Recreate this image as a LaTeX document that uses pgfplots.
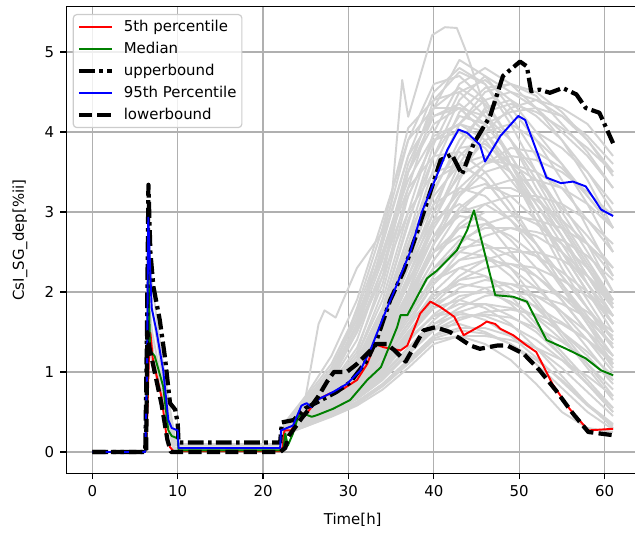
\documentclass[border=0pt]{standalone}
\usepackage{pgfplots}
\pgfplotsset{compat=1.18}
\usepackage{fontspec}
\setmainfont{DejaVu Sans}
\definecolor{gridgray}{HTML}{B0B0B0}
\definecolor{lgray}{HTML}{D3D3D3}
\definecolor{mplgreen}{HTML}{008000}
\definecolor{legedge}{HTML}{CCCCCC}
\pgfplotsset{gr/.style={color=lgray, line width=1.1pt, line join=round, forget plot}}

\begin{document}
\begin{tikzpicture}
\begin{axis}[
  at={(0,0)}, anchor=south west,
  scale only axis,
  width=11.456cm, height=9.328cm,
  xmin=-3.05, xmax=64.05, ymin=-0.265, ymax=5.565,
  xtick={0,10,20,30,40,50,60}, ytick={0,1,2,3,4,5},
  tick pos=left,
  grid=major,
  grid style={gridgray, line width=0.68pt},
  axis line style={line width=0.68pt},
  tick align=outside, major tick length=0.12cm,
  tick style={black, line width=0.68pt},
  every tick label/.append style={font=\fontsize{8.5}{10}\selectfont},
  /pgf/number format/assume math mode=true,
  label style={font=\fontsize{8.5}{10}\selectfont},
  xlabel={Time[h]}, ylabel={CsI\_SG\_dep[\%ii]},
  xlabel style={at={(axis description cs:0.5,-0.1003)}, anchor=center},
  ylabel style={at={(axis description cs:-0.0808,0.5)}, anchor=center},
  legend cell align=left,
  legend image code/.code={\draw[#1] (0cm,0cm) -- (0.66cm,0cm);},
  legend style={
    at={(0.0112,0.9846)}, anchor=north west,
    draw=legedge, line width=0.68pt, rounded corners=2pt,
    fill=white, fill opacity=0.8, text opacity=1,
    font=\fontsize{8.5}{10}\selectfont,
    inner xsep=2pt, inner ysep=2pt, row sep=2.2pt,
    nodes={inner sep=1pt, text height=6.5pt, text depth=1.8pt},
    /tikz/every odd column/.append style={column sep=0.16cm},
  },
]
% ensemble runs, early spike part
\addplot[gr] coordinates {(0,0)(6.2,0)(6.5,2.5)(7,1.8)(8,1.1)(9,0.45)(9.7,0.08)(22,0.08)};
\addplot[gr] coordinates {(0,0)(6.2,0)(6.5,2.0)(7,1.5)(8,0.95)(9,0.35)(9.6,0.05)(22,0.05)};
\addplot[gr] coordinates {(0,0)(6.3,0)(6.6,1.7)(7.2,1.2)(8,0.8)(9,0.3)(9.5,0.02)(22,0.02)};
\addplot[gr] coordinates {(0,0)(6.3,0)(6.6,1.3)(7.3,1.0)(8.2,0.7)(9.2,0.2)(9.6,0.03)(22,0.03)};
\addplot[gr] coordinates {(0,0)(6.2,0)(6.5,2.8)(7,2.1)(8,1.3)(9,0.6)(9.8,0.1)(22,0.1)};
% ensemble runs, second release
\addplot[gr] coordinates {(22,0.05)(22.5,0.3)(25,0.7)(26.5,1.6)(27.2,1.77)(28.5,1.68)(31,2.3)(34,2.75)(35,3.1)(36.3,4.65)(37,4.19)(39.8,5.21)(41.3,5.31)(42.7,5.3)(43.7,5.03)(46,4.3)(49,3.6)(52,3.0)(55,2.5)(58,2.0)(61,1.6)};
\addplot[gr] coordinates {(22,0.05)(22.5,0.35)(25,0.6)(28,0.95)(31,1.8)(34,2.8)(37,4.05)(40,4.4)(43,4.5)(46,4.2)(49,3.7)(52,3.2)(55,2.7)(58,2.2)(61,1.8)};
\addplot[gr] coordinates {(22,0.05)(22.5,0.33)(25,0.55)(28,0.9)(31,1.5)(34,2.6)(37,3.7)(40,4.5)(43,4.8)(46,4.6)(49,4.1)(52,3.5)(55,2.9)(58,2.4)(61,1.9)};
\addplot[gr] coordinates {(22,0.04)(22.5,0.3)(25,0.5)(28,0.85)(31,1.3)(34,2.1)(37,3.3)(40,4.3)(43,4.9)(46,4.7)(49,4.3)(52,3.9)(55,3.4)(58,2.8)(61,2.2)};
\addplot[gr] coordinates {(22,0.04)(22.5,0.3)(25,0.5)(28,0.8)(31,1.2)(34,1.9)(37,3.0)(40,4.0)(43,4.6)(46,4.8)(49,4.6)(52,4.3)(55,3.9)(58,3.4)(61,2.8)};
\addplot[gr] coordinates {(22,0.03)(22.5,0.28)(25,0.45)(28,0.75)(31,1.1)(34,1.7)(37,2.7)(40,3.7)(43,4.4)(46,4.7)(49,4.5)(52,4.4)(55,4.2)(58,3.9)(61,3.5)};
\addplot[gr] coordinates {(22,0.03)(22.5,0.28)(25,0.45)(28,0.7)(31,1.05)(34,1.6)(37,2.5)(40,3.4)(43,4.1)(46,4.4)(49,4.5)(52,4.3)(55,4.0)(58,3.7)(61,3.3)};
\addplot[gr] coordinates {(22,0.03)(22.5,0.3)(25,0.5)(28,0.8)(31,1.2)(34,2.0)(37,3.2)(40,3.9)(43,4.0)(46,3.8)(49,3.4)(52,3.0)(55,2.5)(58,2.0)(61,1.5)};
\addplot[gr] coordinates {(22,0.03)(22.5,0.3)(25,0.48)(28,0.78)(31,1.15)(34,1.8)(37,2.9)(40,3.7)(43,4.2)(46,4.1)(49,3.7)(52,3.2)(55,2.7)(58,2.1)(61,1.6)};
\addplot[gr] coordinates {(22,0.03)(22.5,0.28)(25,0.45)(28,0.7)(31,1.0)(34,1.5)(37,2.3)(40,3.1)(43,3.7)(46,4.0)(49,4.1)(52,3.9)(55,3.6)(58,3.2)(61,2.8)};
\addplot[gr] coordinates {(22,0.02)(22.5,0.27)(25,0.42)(28,0.65)(31,0.95)(34,1.4)(37,2.1)(40,2.9)(43,3.5)(46,3.9)(49,4.0)(52,4.0)(55,3.8)(58,3.5)(61,3.1)};
\addplot[gr] coordinates {(22,0.03)(22.5,0.3)(25,0.48)(28,0.75)(31,1.1)(34,1.75)(37,2.7)(40,3.4)(43,3.6)(46,3.4)(49,3.0)(52,2.6)(55,2.1)(58,1.6)(61,1.1)};
\addplot[gr] coordinates {(22,0.03)(22.5,0.29)(25,0.45)(28,0.72)(31,1.05)(34,1.6)(37,2.4)(40,3.2)(43,3.6)(46,3.7)(49,3.5)(52,3.1)(55,2.7)(58,2.2)(61,1.7)};
\addplot[gr] coordinates {(22,0.02)(22.5,0.27)(25,0.42)(28,0.66)(31,0.95)(34,1.4)(37,2.0)(40,2.7)(43,3.2)(46,3.5)(49,3.6)(52,3.5)(55,3.3)(58,2.9)(61,2.5)};
\addplot[gr] coordinates {(22,0.02)(22.5,0.26)(25,0.4)(28,0.62)(31,0.9)(34,1.3)(37,1.9)(40,2.5)(43,3.0)(46,3.3)(49,3.4)(52,3.4)(55,3.3)(58,3.1)(61,2.8)};
\addplot[gr] coordinates {(22,0.03)(22.5,0.3)(25,0.47)(28,0.72)(31,1.05)(34,1.55)(37,2.3)(40,2.9)(43,3.1)(46,2.9)(49,2.5)(52,2.1)(55,1.7)(58,1.3)(61,0.9)};
\addplot[gr] coordinates {(22,0.03)(22.5,0.28)(25,0.44)(28,0.68)(31,0.98)(34,1.45)(37,2.1)(40,2.7)(43,3.0)(46,3.1)(49,2.9)(52,2.6)(55,2.2)(58,1.8)(61,1.4)};
\addplot[gr] coordinates {(22,0.02)(22.5,0.27)(25,0.41)(28,0.63)(31,0.9)(34,1.3)(37,1.85)(40,2.4)(43,2.8)(46,3.0)(49,3.0)(52,2.85)(55,2.6)(58,2.3)(61,1.9)};
\addplot[gr] coordinates {(22,0.02)(22.5,0.26)(25,0.39)(28,0.6)(31,0.85)(34,1.2)(37,1.7)(40,2.2)(43,2.6)(46,2.85)(49,2.95)(52,2.9)(55,2.8)(58,2.6)(61,2.3)};
\addplot[gr] coordinates {(22,0.03)(22.5,0.29)(25,0.45)(28,0.68)(31,0.98)(34,1.4)(37,2.0)(40,2.5)(43,2.7)(46,2.6)(49,2.3)(52,1.9)(55,1.5)(58,1.1)(61,0.7)};
\addplot[gr] coordinates {(22,0.02)(22.5,0.27)(25,0.42)(28,0.64)(31,0.9)(34,1.3)(37,1.8)(40,2.3)(43,2.55)(46,2.6)(49,2.45)(52,2.2)(55,1.9)(58,1.5)(61,1.1)};
\addplot[gr] coordinates {(22,0.02)(22.5,0.26)(25,0.4)(28,0.6)(31,0.85)(34,1.2)(37,1.65)(40,2.1)(43,2.4)(46,2.55)(49,2.55)(52,2.45)(55,2.25)(58,2.0)(61,1.7)};
\addplot[gr] coordinates {(22,0.02)(22.5,0.25)(25,0.38)(28,0.57)(31,0.8)(34,1.1)(37,1.5)(40,1.9)(43,2.2)(46,2.4)(49,2.5)(52,2.5)(55,2.4)(58,2.2)(61,1.9)};
\addplot[gr] coordinates {(22,0.02)(22.5,0.27)(25,0.42)(28,0.63)(31,0.88)(34,1.25)(37,1.75)(40,2.15)(43,2.3)(46,2.2)(49,1.95)(52,1.6)(55,1.25)(58,0.9)(61,0.55)};
\addplot[gr] coordinates {(22,0.02)(22.5,0.26)(25,0.4)(28,0.6)(31,0.83)(34,1.15)(37,1.6)(40,1.95)(43,2.15)(46,2.2)(49,2.05)(52,1.8)(55,1.5)(58,1.2)(61,0.85)};
\addplot[gr] coordinates {(22,0.02)(22.5,0.25)(25,0.38)(28,0.56)(31,0.78)(34,1.05)(37,1.45)(40,1.8)(43,2.05)(46,2.15)(49,2.1)(52,1.95)(55,1.75)(58,1.5)(61,1.2)};
\addplot[gr] coordinates {(22,0.01)(22.5,0.24)(25,0.36)(28,0.53)(31,0.73)(34,0.98)(37,1.3)(40,1.65)(43,1.9)(46,2.05)(49,2.1)(52,2.05)(55,1.95)(58,1.75)(61,1.5)};
\addplot[gr] coordinates {(22,0.02)(22.5,0.26)(25,0.4)(28,0.58)(31,0.8)(34,1.1)(37,1.5)(40,1.8)(43,1.9)(46,1.8)(49,1.6)(52,1.3)(55,0.95)(58,0.6)(61,0.3)};
\addplot[gr] coordinates {(22,0.02)(22.5,0.25)(25,0.38)(28,0.55)(31,0.75)(34,1.02)(37,1.4)(40,1.7)(43,1.85)(46,1.85)(49,1.7)(52,1.5)(55,1.2)(58,0.85)(61,0.5)};
\addplot[gr] coordinates {(22,0.01)(22.5,0.24)(25,0.35)(28,0.5)(31,0.68)(34,0.92)(37,1.25)(40,1.55)(43,1.75)(46,1.85)(49,1.8)(52,1.7)(55,1.5)(58,1.25)(61,0.95)};
\addplot[gr] coordinates {(22,0.01)(22.5,0.23)(25,0.33)(28,0.47)(31,0.62)(34,0.85)(37,1.15)(40,1.45)(43,1.65)(46,1.75)(49,1.78)(52,1.72)(55,1.6)(58,1.4)(61,1.15)};
\addplot[gr] coordinates {(22,0.02)(22.5,0.25)(25,0.37)(28,0.52)(31,0.7)(34,0.95)(37,1.3)(40,1.55)(43,1.6)(46,1.5)(49,1.35)(52,1.1)(55,0.8)(58,0.5)(61,0.28)};
\addplot[gr] coordinates {(22,0.01)(22.5,0.23)(25,0.34)(28,0.48)(31,0.63)(34,0.85)(37,1.15)(40,1.45)(43,1.55)(46,1.55)(49,1.45)(52,1.3)(55,1.05)(58,0.75)(61,0.45)};
\addplot[gr] coordinates {(22,0.01)(22.5,0.22)(25,0.32)(28,0.44)(31,0.58)(34,0.78)(37,1.05)(40,1.35)(43,1.45)(46,1.45)(49,1.4)(52,1.3)(55,1.15)(58,0.95)(61,0.7)};
\addplot[gr] coordinates {(22,0.02)(22.5,0.26)(25,0.4)(28,0.6)(31,0.85)(34,1.2)(37,1.8)(40,2.6)(43,3.4)(46,4.0)(49,4.3)(52,4.4)(55,4.3)(58,4.1)(61,3.7)};
\addplot[gr] coordinates {(22,0.02)(22.5,0.27)(25,0.42)(28,0.65)(31,0.95)(34,1.45)(37,2.2)(40,3.0)(43,3.8)(46,4.3)(49,4.4)(52,4.2)(55,3.9)(58,3.5)(61,3.0)};
\addplot[gr] coordinates {(22,0.03)(22.5,0.3)(25,0.5)(28,0.82)(31,1.25)(34,2.2)(37,3.5)(40,4.2)(43,4.3)(46,4.0)(49,3.5)(52,2.9)(55,2.3)(58,1.8)(61,1.3)};
\addplot[gr] coordinates {(22,0.02)(22.5,0.28)(25,0.44)(28,0.66)(31,0.92)(34,1.3)(37,1.9)(40,2.6)(43,3.2)(46,3.6)(49,3.8)(52,3.75)(55,3.55)(58,3.2)(61,2.8)};
\addplot[gr] coordinates {(22,0.01)(22.5,0.22)(25,0.32)(28,0.45)(31,0.6)(34,0.82)(37,1.1)(40,1.4)(43,1.45)(46,1.35)(49,1.15)(52,0.85)(55,0.5)(58,0.3)(61,0.25)};
\addplot[gr] coordinates {(22,0.04)(22.5,0.32)(25,0.58)(28,0.95)(31,1.6)(34,2.7)(37,3.9)(40,4.6)(43,4.7)(46,4.4)(49,3.9)(52,3.3)(55,2.8)(58,2.3)(61,1.85)};
\addplot[gr] coordinates {(22,0.04)(22.5,0.31)(25,0.52)(28,0.88)(31,1.4)(34,2.3)(37,3.5)(40,4.4)(43,4.75)(46,4.6)(49,4.2)(52,3.7)(55,3.1)(58,2.6)(61,2.0)};
\addplot[gr] coordinates {(22,0.03)(22.5,0.29)(25,0.47)(28,0.78)(31,1.15)(34,1.8)(37,2.85)(40,3.85)(43,4.5)(46,4.65)(49,4.4)(52,4.0)(55,3.6)(58,3.1)(61,2.5)};
\addplot[gr] coordinates {(22,0.03)(22.5,0.28)(25,0.44)(28,0.72)(31,1.08)(34,1.65)(37,2.6)(40,3.55)(43,4.25)(46,4.55)(49,4.6)(52,4.45)(55,4.1)(58,3.75)(61,3.3)};
\addplot[gr] coordinates {(22,0.03)(22.5,0.27)(25,0.43)(28,0.68)(31,1.0)(34,1.5)(37,2.35)(40,3.25)(43,3.9)(46,4.25)(49,4.35)(52,4.25)(55,4.05)(58,3.8)(61,3.5)};
\addplot[gr] coordinates {(22,0.03)(22.5,0.29)(25,0.46)(28,0.74)(31,1.1)(34,1.7)(37,2.6)(40,3.3)(43,3.8)(46,3.85)(49,3.6)(52,3.2)(55,2.8)(58,2.3)(61,1.8)};
\addplot[gr] coordinates {(22,0.03)(22.5,0.28)(25,0.44)(28,0.7)(31,1.02)(34,1.55)(37,2.35)(40,3.0)(43,3.45)(46,3.65)(49,3.6)(52,3.4)(55,3.05)(58,2.7)(61,2.3)};
\addplot[gr] coordinates {(22,0.02)(22.5,0.27)(25,0.42)(28,0.65)(31,0.95)(34,1.4)(37,2.1)(40,2.8)(43,3.3)(46,3.6)(49,3.7)(52,3.65)(55,3.5)(58,3.25)(61,2.95)};
\addplot[gr] coordinates {(22,0.03)(22.5,0.3)(25,0.48)(28,0.76)(31,1.12)(34,1.7)(37,2.55)(40,3.1)(43,3.3)(46,3.2)(49,2.9)(52,2.5)(55,2.05)(58,1.6)(61,1.2)};
\addplot[gr] coordinates {(22,0.03)(22.5,0.28)(25,0.45)(28,0.7)(31,1.0)(34,1.5)(37,2.2)(40,2.85)(43,3.25)(46,3.35)(49,3.2)(52,2.9)(55,2.5)(58,2.1)(61,1.7)};
\addplot[gr] coordinates {(22,0.02)(22.5,0.27)(25,0.41)(28,0.63)(31,0.92)(34,1.35)(37,1.95)(40,2.6)(43,3.05)(46,3.3)(49,3.3)(52,3.15)(55,2.9)(58,2.6)(61,2.2)};
\addplot[gr] coordinates {(22,0.02)(22.5,0.26)(25,0.4)(28,0.61)(31,0.88)(34,1.28)(37,1.85)(40,2.4)(43,2.85)(46,3.1)(49,3.2)(52,3.2)(55,3.1)(58,2.9)(61,2.6)};
\addplot[gr] coordinates {(22,0.03)(22.5,0.29)(25,0.45)(28,0.7)(31,1.0)(34,1.5)(37,2.15)(40,2.7)(43,2.95)(46,2.9)(49,2.65)(52,2.3)(55,1.9)(58,1.5)(61,1.05)};
\addplot[gr] coordinates {(22,0.02)(22.5,0.27)(25,0.42)(28,0.65)(31,0.93)(34,1.35)(37,1.95)(40,2.5)(43,2.8)(46,2.85)(49,2.7)(52,2.45)(55,2.1)(58,1.7)(61,1.3)};
\addplot[gr] coordinates {(22,0.02)(22.5,0.26)(25,0.4)(28,0.61)(31,0.87)(34,1.25)(37,1.75)(40,2.3)(43,2.65)(46,2.8)(49,2.8)(52,2.7)(55,2.5)(58,2.2)(61,1.85)};
\addplot[gr] coordinates {(22,0.02)(22.5,0.25)(25,0.38)(28,0.58)(31,0.82)(34,1.15)(37,1.6)(40,2.1)(43,2.5)(46,2.7)(49,2.8)(52,2.75)(55,2.65)(58,2.45)(61,2.15)};
\addplot[gr] coordinates {(22,0.02)(22.5,0.28)(25,0.43)(28,0.65)(31,0.92)(34,1.3)(37,1.85)(40,2.3)(43,2.5)(46,2.45)(49,2.2)(52,1.85)(55,1.45)(58,1.05)(61,0.65)};
\addplot[gr] coordinates {(22,0.02)(22.5,0.27)(25,0.41)(28,0.62)(31,0.87)(34,1.22)(37,1.7)(40,2.15)(43,2.4)(46,2.45)(49,2.3)(52,2.05)(55,1.75)(58,1.4)(61,1.0)};
\addplot[gr] coordinates {(22,0.02)(22.5,0.26)(25,0.39)(28,0.58)(31,0.82)(34,1.13)(37,1.55)(40,2.0)(43,2.3)(46,2.4)(49,2.35)(52,2.2)(55,1.95)(58,1.65)(61,1.35)};
\addplot[gr] coordinates {(22,0.01)(22.5,0.24)(25,0.37)(28,0.55)(31,0.77)(34,1.05)(37,1.45)(40,1.85)(43,2.15)(46,2.3)(49,2.35)(52,2.3)(55,2.15)(58,1.95)(61,1.7)};
\addplot[gr] coordinates {(22,0.02)(22.5,0.26)(25,0.4)(28,0.59)(31,0.83)(34,1.15)(37,1.6)(40,1.95)(43,2.1)(46,2.05)(49,1.85)(52,1.55)(55,1.2)(58,0.85)(61,0.5)};
\addplot[gr] coordinates {(22,0.02)(22.5,0.25)(25,0.38)(28,0.56)(31,0.79)(34,1.08)(37,1.48)(40,1.85)(43,2.0)(46,2.0)(49,1.88)(52,1.68)(55,1.4)(58,1.1)(61,0.78)};
\addplot[gr] coordinates {(22,0.01)(22.5,0.24)(25,0.36)(28,0.53)(31,0.74)(34,1.0)(37,1.38)(40,1.72)(43,1.95)(46,2.0)(49,1.95)(52,1.82)(55,1.62)(58,1.4)(61,1.1)};
\addplot[gr] coordinates {(22,0.01)(22.5,0.23)(25,0.35)(28,0.5)(31,0.68)(34,0.92)(37,1.25)(40,1.6)(43,1.8)(46,1.95)(49,2.0)(52,1.95)(55,1.85)(58,1.68)(61,1.45)};
\addplot[gr] coordinates {(22,0.02)(22.5,0.25)(25,0.38)(28,0.55)(31,0.76)(34,1.04)(37,1.42)(40,1.7)(43,1.75)(46,1.65)(49,1.45)(52,1.18)(55,0.88)(58,0.58)(61,0.33)};
\addplot[gr] coordinates {(22,0.01)(22.5,0.24)(25,0.36)(28,0.52)(31,0.71)(34,0.96)(37,1.3)(40,1.6)(43,1.72)(46,1.7)(49,1.58)(52,1.4)(55,1.15)(58,0.85)(61,0.55)};
\addplot[gr] coordinates {(22,0.01)(22.5,0.23)(25,0.34)(28,0.49)(31,0.66)(34,0.9)(37,1.22)(40,1.52)(43,1.68)(46,1.72)(49,1.68)(52,1.55)(55,1.38)(58,1.15)(61,0.9)};
\addplot[gr] coordinates {(22,0.01)(22.5,0.23)(25,0.33)(28,0.47)(31,0.62)(34,0.84)(37,1.12)(40,1.42)(43,1.52)(46,1.48)(49,1.35)(52,1.15)(55,0.9)(58,0.6)(61,0.35)};
\addplot[gr] coordinates {(22,0.02)(22.5,0.27)(25,0.42)(28,0.65)(31,0.95)(34,1.5)(37,2.4)(40,3.4)(43,4.1)(46,4.5)(49,4.6)(52,4.5)(55,4.25)(58,3.9)(61,3.45)};
\addplot[gr] coordinates {(22,0.02)(22.5,0.26)(25,0.4)(28,0.62)(31,0.9)(34,1.35)(37,2.0)(40,2.9)(43,3.6)(46,4.1)(49,4.25)(52,4.3)(55,4.2)(58,3.95)(61,3.6)};
\addplot[gr] coordinates {(22,0.05)(22.5,0.35)(25,0.65)(28,1.05)(31,1.7)(34,2.5)(37,3.4)(40,3.95)(43,4.1)(46,3.9)(49,3.5)(52,3.0)(55,2.5)(58,2.0)(61,1.6)};
\addplot[gr] coordinates {(22,0.05)(22.5,0.34)(25,0.62)(28,1.0)(31,1.55)(34,2.4)(37,3.6)(40,4.3)(43,4.55)(46,4.35)(49,3.9)(52,3.4)(55,2.85)(58,2.35)(61,1.9)};
\addplot[gr] coordinates {(22,0.05)(22.5,0.36)(25,0.7)(28,1.2)(31,1.9)(34,2.9)(37,3.9)(40,4.3)(43,4.3)(46,4.0)(49,3.5)(52,3.0)(55,2.4)(58,1.9)(61,1.4)};
\addplot[gr] coordinates {(22,0.05)(22.5,0.35)(25,0.68)(28,1.1)(31,1.75)(34,2.65)(37,3.7)(40,4.2)(43,4.35)(46,4.1)(49,3.7)(52,3.2)(55,2.7)(58,2.2)(61,1.7)};
\addplot[gr] coordinates {(22,0.04)(22.5,0.33)(25,0.62)(28,1.0)(31,1.6)(34,2.5)(37,3.5)(40,4.1)(43,4.3)(46,4.2)(49,3.9)(52,3.5)(55,3.0)(58,2.5)(61,2.0)};
\addplot[gr] coordinates {(22,0.04)(22.5,0.32)(25,0.6)(28,0.98)(31,1.5)(34,2.3)(37,3.2)(40,3.9)(43,4.1)(46,4.0)(49,3.6)(52,3.1)(55,2.6)(58,2.1)(61,1.6)};
\addplot[gr] coordinates {(22,0.04)(22.5,0.33)(25,0.63)(28,1.05)(31,1.65)(34,2.45)(37,3.3)(40,3.7)(43,3.75)(46,3.5)(49,3.1)(52,2.6)(55,2.1)(58,1.65)(61,1.2)};
\addplot[gr] coordinates {(22,0.04)(22.5,0.3)(25,0.55)(28,0.95)(31,1.5)(34,2.2)(37,3.0)(40,3.5)(43,3.6)(46,3.4)(49,3.0)(52,2.6)(55,2.2)(58,1.8)(61,1.4)};

% statistics
\addplot[red, line width=1.1pt, line join=round] coordinates {(0,0)(6.2,0)(6.4,0.3)(6.6,1.1)(6.8,1.49)(7.1,1.15)(8.1,0.69)(8.7,0.19)(9.1,0.06)(9.5,0.01)(22,0.01)(22.3,0.06)(22.5,0.27)(23.3,0.27)(24.3,0.48)(25.1,0.48)(26.3,0.65)(27.8,0.73)(29.4,0.79)(31,0.9)(32.2,1.1)(33.1,1.35)(34.1,1.31)(35,1.29)(36.1,1.27)(36.9,1.33)(38.4,1.73)(39.6,1.88)(40.8,1.81)(42.4,1.69)(43.5,1.46)(45.5,1.58)(46.2,1.63)(47.2,1.6)(47.8,1.54)(49.3,1.46)(50.9,1.33)(52,1.25)(53.9,0.85)(55.9,0.54)(58.1,0.27)(61,0.29)};
\addlegendentry{5th percentile}
\addplot[mplgreen, line width=1.1pt, line join=round] coordinates {(0,0)(6.2,0)(6.4,0.5)(6.57,2.31)(6.76,1.27)(7.3,1.2)(8.3,0.82)(8.9,0.27)(9.3,0.2)(10,0.17)(10.1,0.02)(22,0.02)(22.4,0.04)(22.6,0.23)(22.9,0.08)(23.5,0.23)(24.1,0.44)(24.7,0.48)(25.7,0.44)(26.3,0.46)(28.2,0.54)(30.2,0.65)(32.2,0.9)(33.8,1.06)(35.7,1.56)(36.1,1.71)(36.9,1.71)(37.6,1.85)(39.2,2.17)(40.4,2.27)(42.7,2.52)(43.9,2.77)(44.7,3.02)(47.2,1.96)(49.3,1.94)(50.9,1.88)(53.2,1.4)(55.5,1.29)(57.8,1.17)(59.6,1.02)(61,0.96)};
\addlegendentry{Median}
\addplot[black, line width=2.4pt, line join=round, dash pattern=on 9pt off 2.5pt on 2pt off 2.5pt] coordinates {(0,0)(6.2,0)(6.4,1.5)(6.57,3.34)(6.8,2.5)(7.15,2.07)(7.9,1.65)(8.5,1.19)(9.1,0.61)(9.7,0.53)(10,0.36)(10.1,0.12)(22,0.12)(22.2,0.37)(23.6,0.4)(24.3,0.48)(25,0.55)(26.3,0.62)(28.6,0.75)(30.2,0.87)(32.2,1.15)(33.3,1.4)(34.9,1.9)(36.5,2.27)(38,2.73)(38.8,2.99)(40.8,3.65)(42.1,3.72)(43.3,3.47)(44.7,3.86)(46.6,4.2)(48.1,4.7)(50.1,4.88)(50.9,4.82)(51.4,4.51)(52.4,4.53)(53.6,4.49)(55.1,4.55)(56.7,4.47)(57.8,4.3)(59.4,4.24)(61,3.86)};
\addlegendentry{upperbound}
\addplot[blue, line width=1.1pt, line join=round] coordinates {(0,0)(6.2,0)(6.4,1.0)(6.55,2.93)(6.95,1.8)(7.5,1.52)(8.3,1.02)(8.9,0.4)(9.3,0.3)(10,0.27)(10.1,0.05)(22,0.05)(22.1,0.27)(23.5,0.33)(24.5,0.58)(25.1,0.61)(25.7,0.56)(26.3,0.65)(28.2,0.75)(29.8,0.85)(31.4,1.02)(32.7,1.31)(34.1,1.69)(35.7,2.1)(37.3,2.52)(38.6,3.0)(41.6,3.78)(42.9,4.03)(43.9,3.99)(45.4,3.84)(46,3.63)(47.8,3.95)(49.9,4.2)(50.7,4.15)(53.2,3.43)(54.9,3.36)(56.3,3.38)(57.8,3.32)(59.6,3.03)(61,2.95)};
\addlegendentry{95th Percentile}
\addplot[black, line width=2.4pt, line join=round, dash pattern=on 7.5pt off 3pt] coordinates {(0,0)(6.3,0)(6.45,1.5)(6.7,1.3)(7.2,1.05)(8.1,0.6)(8.8,0.15)(9.2,0)(22,0)(22.6,0.05)(23,0.2)(23.7,0.3)(24.5,0.42)(25.5,0.55)(26.5,0.7)(27.5,0.88)(28.3,1.0)(29.8,1.0)(31,1.1)(32.2,1.23)(33.3,1.35)(34.5,1.35)(35.4,1.27)(36.7,1.13)(38.8,1.52)(40.2,1.56)(41.9,1.5)(44.3,1.33)(45.4,1.29)(47.4,1.33)(48.6,1.33)(50.5,1.23)(52.4,1.02)(54.3,0.77)(56.3,0.48)(58.1,0.25)(61,0.21)};
\addlegendentry{lowerbound}
\end{axis}
\pgfresetboundingbox
\useasboundingbox (-1.326cm,-1.196cm) rectangle (11.374cm,9.464cm);
\end{tikzpicture}
\end{document}
